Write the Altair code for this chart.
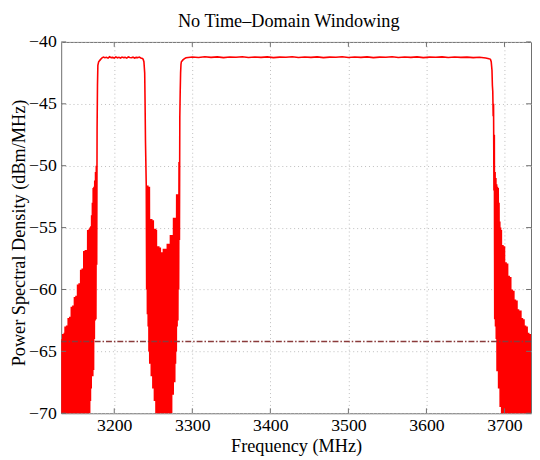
import altair as alt
import pandas as pd

# ---------------- data ----------------
title_text = ["No Time–Domain Windowing"]
x_ticks = [3200, 3300, 3400, 3500, 3600, 3700]
y_ticks = [-70, -65, -60, -55, -50, -45, -40]
x_domain = [3132, 3734]
y_domain = [-70, -40]
threshold = [-64.2]

# left skirt: lobe peaks at 3132, 3133, ... MHz and nulls half a MHz later
left_start = 3132
left_peaks = [-64.2, -64.0, -63.6, -63.6, -63.5, -63.0, -63.0, -62.9, -62.9, -62.3,
              -62.3, -62.2, -62.2, -61.4, -61.4, -61.3, -61.3, -60.6, -60.6, -60.5,
              -60.5, -59.6, -59.6, -59.5, -59.5, -58.4, -58.4, -58.3, -58.3, -56.9,
              -56.9, -56.8, -56.8, -56.8, -55.2, -55.2, -55.1, -55.0, -54.9, -54.0,
              -53.0, -51.8, -51.7, -51.2, -50.5, -50.0]
left_nulls = [-75, -72, -76, -70.5, -75, -73, -69.5, -76, -74, -70,
              -76, -72, -75, -69, -76, -73, -75, -68.5, -76, -72,
              -75, -68, -76, -71, -74, -67.5, -75, -70, -73, -67,
              -75, -69, -72, -66.5, -73, -68, -70, -69, -68, -66.6,
              -67, -66.5, -64, -62.5, -62.4, -58]

# first band (edges and flat top)
band1_edge_f = [3178, 3178.5, 3179, 3180, 3182]
band1_edge_p = [-47.0, -43.5, -41.9, -41.6, -41.45]
band1_top_f = [3184, 3186, 3188, 3190, 3192, 3194, 3196, 3198, 3200, 3202, 3204, 3206, 3208,
               3210, 3212, 3214, 3216, 3218, 3220, 3222, 3224, 3226, 3228, 3230, 3232, 3234, 3236]
band1_top_p = [-41.30, -41.22, -41.28, -41.24, -41.31, -41.20, -41.27, -41.25, -41.30, -41.21,
               -41.28, -41.24, -41.30, -41.22, -41.27, -41.25, -41.31, -41.21, -41.26, -41.28,
               -41.23, -41.30, -41.25, -41.27, -41.22, -41.30, -41.33]
band1_fall_f = [3237, 3238, 3239, 3239.5, 3240]
band1_fall_p = [-41.4, -41.6, -42.5, -45.0, -48.0]

# notch between the bands: peaks at 3241, 3242, ... MHz, nulls half a MHz later
notch_start = 3241
notch_peaks = [-51.6, -51.6, -51.6, -51.7, -51.7, -54.3, -54.3, -54.3, -54.4, -54.4,
               -55.1, -55.1, -55.1, -55.2, -56.5, -56.5, -56.5, -56.6, -56.6, -57.0,
               -57.0, -57.0, -56.7, -56.7, -56.7, -56.7, -56.7, -56.3, -56.3, -56.3,
               -56.3, -55.6, -55.6, -55.6, -55.6, -54.2, -54.2, -54.2, -54.2, -52.3,
               -52.3, -52.3, -49.7, -46.0]
notch_nulls = [-60, -62, -63, -65, -66, -64, -67, -66, -68, -67,
               -69, -68, -70.5, -69, -72, -70, -74, -71, -76, -73,
               -76, -74, -76, -73, -76, -74, -75, -71, -74, -69.5,
               -72, -69, -70, -68, -68.5, -67, -67.5, -66, -65, -63,
               -62.5, -60, -56, -44]

# second band
band2_edge_f = [3285, 3285.5, 3286, 3288, 3290]
band2_edge_p = [-42.5, -41.8, -41.6, -41.45, -41.35]
band2_top_f = [3292, 3300, 3308, 3316, 3324, 3332, 3340, 3348, 3356, 3364, 3372, 3380, 3388,
               3396, 3404, 3412, 3420, 3428, 3436, 3444, 3452, 3460, 3468, 3476, 3484, 3492,
               3500, 3508, 3516, 3524, 3532, 3540, 3548, 3556, 3564, 3572, 3580, 3588, 3596,
               3604, 3612, 3620, 3628, 3636, 3644, 3652, 3660, 3668, 3676, 3680]
band2_top_p = [-41.28, -41.22, -41.26, -41.20, -41.25, -41.21, -41.27, -41.22, -41.24, -41.20,
               -41.26, -41.22, -41.25, -41.21, -41.27, -41.23, -41.24, -41.20, -41.26, -41.22,
               -41.25, -41.21, -41.27, -41.23, -41.24, -41.20, -41.26, -41.22, -41.25, -41.21,
               -41.27, -41.23, -41.24, -41.20, -41.26, -41.22, -41.25, -41.21, -41.27, -41.23,
               -41.24, -41.21, -41.26, -41.22, -41.25, -41.23, -41.27, -41.24, -41.30, -41.35]
band2_fall_f = [3682, 3683, 3684, 3684.5]
band2_fall_p = [-41.4, -41.6, -42.3, -43.5]

# right skirt: peaks at 3685, 3686, ... MHz, nulls half a MHz later
right_start = 3685
right_peaks = [-44.0, -45.0, -47.5, -50.5, -51.0, -51.5, -51.7, -51.8, -53.0, -54.5,
               -55.0, -55.2, -56.4, -56.4, -56.5, -56.5, -57.8, -57.8, -57.9, -57.9,
               -58.9, -58.9, -59.0, -59.0, -60.0, -60.0, -60.1, -60.1, -60.8, -60.8,
               -60.9, -60.9, -61.6, -61.6, -61.7, -61.7, -61.7, -62.3, -62.3, -62.4,
               -62.4, -62.9, -62.9, -63.0, -63.0, -63.5, -63.5, -63.6, -63.6, -64.0]
right_nulls = [-46, -52, -62.4, -63, -64, -66.6, -66, -68, -67, -69.5,
               -68, -72, -69, -75, -70, -74, -68.5, -76, -72, -75,
               -69, -76, -73, -75, -68, -76, -72, -75, -69, -76,
               -73, -74, -68, -76, -71, -75, -69.5, -76, -73, -75,
               -70, -76, -72, -75, -69, -76, -73, -75, -70, -76]


def skirt(start, peaks, nulls):
    f, p = [], []
    for i, (pk, nl) in enumerate(zip(peaks, nulls)):
        f += [start + i, start + i + 0.5]
        p += [pk, nl]
    return f, p


segments = [
    skirt(left_start, left_peaks, left_nulls),
    (band1_edge_f, band1_edge_p),
    (band1_top_f, band1_top_p),
    (band1_fall_f, band1_fall_p),
    skirt(notch_start, notch_peaks, notch_nulls),
    (band2_edge_f, band2_edge_p),
    (band2_top_f, band2_top_p),
    (band2_fall_f, band2_fall_p),
    skirt(right_start, right_peaks, right_nulls),
]
F, P = [], []
for sf, sp in segments:
    F += list(sf)
    P += list(sp)
psd = pd.DataFrame({"f": F, "p": P})

# ---------------- chart ----------------
W, H = 477, 377
FONT = "Times New Roman"
FRAME = "#6e6e6e"

xs = alt.Scale(domain=x_domain, nice=False, zero=False)
ys = alt.Scale(domain=y_domain, nice=False, zero=False)

x_axis = alt.Axis(values=x_ticks, format="d", title="Frequency (MHz)", grid=True,
                  ticks=False, domain=False, labelPadding=4, titleY=24,
                  titleBaseline="top")
y_axis = alt.Axis(values=y_ticks, format="d", title="Power Spectral Density (dBm/MHz)",
                  grid=True, ticks=False, domain=False, labelPadding=5,
                  titleX=-33, titleY=H / 2 + 5)

line = alt.Chart(psd).mark_line(color="#ff0000", strokeWidth=1.6, clip=True).encode(
    x=alt.X("f:Q", scale=xs, axis=x_axis),
    y=alt.Y("p:Q", scale=ys, axis=y_axis),
    order="f:Q",
)

thr = alt.Chart(pd.DataFrame({"p": threshold})).mark_rule(
    color="#8a3b3b", strokeWidth=1.5, strokeDash=[6, 2, 1.5, 2]
).encode(y=alt.Y("p:Q", scale=ys))

xt = pd.DataFrame({"f": x_ticks})
yt = pd.DataFrame({"p": y_ticks})
tick_b = alt.Chart(xt).mark_rule(color=FRAME).encode(
    x=alt.X("f:Q", scale=xs), y=alt.value(H), y2=alt.value(H - 5))
tick_t = alt.Chart(xt).mark_rule(color=FRAME).encode(
    x=alt.X("f:Q", scale=xs), y=alt.value(0), y2=alt.value(5))
tick_l = alt.Chart(yt).mark_rule(color=FRAME).encode(
    y=alt.Y("p:Q", scale=ys), x=alt.value(0), x2=alt.value(5))
tick_r = alt.Chart(yt).mark_rule(color=FRAME).encode(
    y=alt.Y("p:Q", scale=ys), x=alt.value(W), x2=alt.value(W - 5))

title = alt.Chart(pd.DataFrame({"t": title_text})).mark_text(
    font=FONT, fontSize=18.5, color="black", align="center", baseline="alphabetic"
).encode(text="t:N", x=alt.value(231), y=alt.value(-15))

chart = alt.layer(line, thr, tick_b, tick_t, tick_l, tick_r, title).properties(
    width=W,
    height=H,
    autosize=alt.AutoSizeParams(type="none"),
    padding={"left": 54, "top": 31, "right": 1, "bottom": 44},
).configure(
    background="white"
).configure_view(
    stroke=FRAME, strokeWidth=1
).configure_axis(
    labelFont=FONT, titleFont=FONT, labelFontSize=18, titleFontSize=18.5,
    labelColor="black", titleColor="black", titleFontWeight="normal",
    gridColor="#bdbdbd", gridDash=[1, 3], gridWidth=1,
)

chart.save("out.html", embed_options={"renderer": "svg", "actions": False})
